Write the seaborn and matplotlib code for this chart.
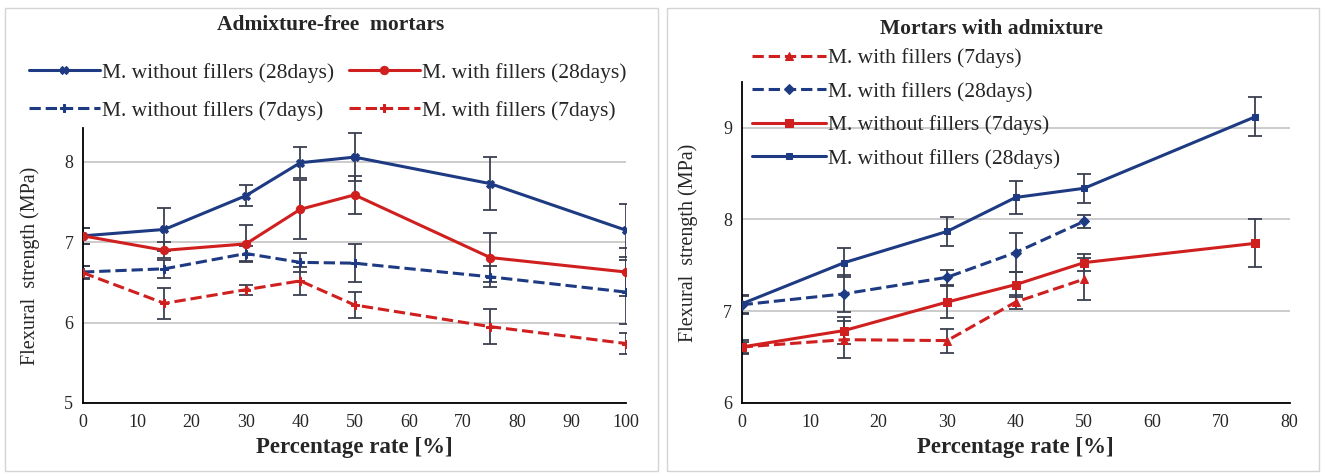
import numpy as np
import pandas as pd
import matplotlib
matplotlib.use("Agg")
import matplotlib.pyplot as plt
import seaborn as sns
from matplotlib.patches import Rectangle

# --- Admixture-free mortars (left) ---
pct_left = [0, 15, 30, 40, 50, 75, 100]
left_nf28 = [7.08, 7.16, 7.58, 7.99, 8.06, 7.73, 7.15]
left_nf28_err = [0.10, 0.27, 0.13, 0.19, 0.30, 0.33, 0.33]
left_wf28 = [7.08, 6.90, 6.98, 7.41, 7.59, 6.81, 6.63]
left_wf28_err = [0.10, 0.10, 0.23, 0.37, 0.24, 0.31, 0.30]
left_nf7 = [6.63, 6.67, 6.86, 6.75, 6.74, 6.57, 6.38]
left_nf7_err = [0.08, 0.11, 0.09, 0.12, 0.24, 0.13, 0.40]
left_wf7 = [6.62, 6.24, 6.41, 6.52, 6.22, 5.95, 5.74]
left_wf7_err = [0.08, 0.19, 0.06, 0.17, 0.16, 0.22, 0.13]

# --- Mortars with admixture (right) ---
pct_right = [0, 15, 30, 40, 50, 75]
pct_right_wf = [0, 15, 30, 40, 50]
right_nf28 = [7.08, 7.53, 7.87, 8.24, 8.34, 9.12]
right_nf28_err = [0.10, 0.16, 0.16, 0.18, 0.16, 0.21]
right_wf28 = [7.07, 7.19, 7.37, 7.64, 7.98]
right_wf28_err = [0.10, 0.20, 0.08, 0.21, 0.07]
right_nf7 = [6.61, 6.79, 7.10, 7.29, 7.53, 7.74]
right_nf7_err = [0.08, 0.15, 0.17, 0.14, 0.09, 0.26]
right_wf7 = [6.61, 6.69, 6.68, 7.10, 7.35]
right_wf7_err = [0.06, 0.20, 0.13, 0.08, 0.23]

NAVY = "#1d3a82"
RED = "#d01f1f"
ERRC = "#3a3f4f"

sns.set_style("white")
plt.rcParams["font.family"] = ["Liberation Serif", "DejaVu Serif"]

fig = plt.figure(figsize=(13.26, 4.73), dpi=100)

# cadres des deux panneaux
for x0 in (0.004, 0.503):
    fig.patches.append(Rectangle((x0, 0.005), 0.492, 0.978, transform=fig.transFigure,
                                 fill=False, edgecolor="#d4d4d4", linewidth=1.0))

ax1 = fig.add_axes([0.0626, 0.148, 0.4095, 0.581])
ax2 = fig.add_axes([0.5593, 0.148, 0.4133, 0.679])


def serie(ax, x, y, err, color, ls, marker, label, ms=6):
    df = pd.DataFrame({"x": x, "y": y})
    ax.errorbar(x, y, yerr=err, fmt="none", ecolor=ERRC, elinewidth=1.3,
                capsize=5, capthick=1.3, zorder=2)
    sns.lineplot(data=df, x="x", y="y", ax=ax, color=color, linestyle=ls,
                 marker=marker, markersize=ms, markeredgecolor=color,
                 linewidth=2.2, label=label, zorder=3,
                 dashes=(4, 2.2) if ls == "--" else "")


serie(ax1, pct_left, left_nf28, left_nf28_err, NAVY, "-", "X", "M. without fillers (28days)")
serie(ax1, pct_left, left_wf28, left_wf28_err, RED, "-", "o", "M. with fillers (28days)")
serie(ax1, pct_left, left_nf7, left_nf7_err, NAVY, "--", "P", "M. without fillers (7days)")
serie(ax1, pct_left, left_wf7, left_wf7_err, RED, "--", "P", "M. with fillers (7days)")

serie(ax2, pct_right_wf, right_wf7, right_wf7_err, RED, "--", "^", "M. with fillers (7days)")
serie(ax2, pct_right_wf, right_wf28, right_wf28_err, NAVY, "--", "D", "M. with fillers (28days)", ms=5.5)
serie(ax2, pct_right, right_nf7, right_nf7_err, RED, "-", "s", "M. without fillers (7days)")
serie(ax2, pct_right, right_nf28, right_nf28_err, NAVY, "-", "s", "M. without fillers (28days)", ms=5)

for ax, xmax, ymin, ymax in ((ax1, 100, 5, 8.42), (ax2, 80, 6, 9.5)):
    ax.set_xlim(0, xmax)
    ax.set_ylim(ymin, ymax)
    ax.set_xticks(np.arange(0, xmax + 1, 10))
    ax.set_yticks(np.arange(ymin, int(ymax) + 1, 1))
    ax.grid(axis="y", color="#c8c8c8", linewidth=1.3)
    ax.set_axisbelow(True)
    for s in ("top", "right"):
        ax.spines[s].set_visible(False)
    for s in ("left", "bottom"):
        ax.spines[s].set_color("black")
        ax.spines[s].set_linewidth(1.3)
    ax.tick_params(axis="x", direction="in", length=5, width=1.1, labelsize=13, pad=8)
    ax.tick_params(axis="y", direction="out", length=0, labelsize=13, pad=7)
    ax.set_xlabel("Percentage rate [%]", fontsize=16.5, fontweight="bold", labelpad=4)
    ax.set_ylabel("Flexural  strength (MPa)", fontsize=14.5)
    ax.get_legend().remove()

ax1.yaxis.set_label_coords(-0.08, 0.5)
ax2.yaxis.set_label_coords(-0.08, 0.5)

fig.text(0.249, 0.947, "Admixture-free  mortars", ha="center", va="center",
         fontsize=15.5, fontweight="bold")
fig.text(0.748, 0.938, "Mortars with admixture", ha="center", va="center",
         fontsize=15.5, fontweight="bold")

h1, l1 = ax1.get_legend_handles_labels()
order = [0, 2, 1, 3]
fig.legend([h1[i] for i in order], [l1[i] for i in order], ncol=2,
           loc="upper left", bbox_to_anchor=(0.015, 0.886), frameon=False,
           fontsize=15.5, handlelength=3.3, handletextpad=0.1,
           columnspacing=0.7, labelspacing=0.85, borderaxespad=0)

h2, l2 = ax2.get_legend_handles_labels()
fig.legend(h2, l2, ncol=1, loc="upper left", bbox_to_anchor=(0.561, 0.916),
           frameon=False, fontsize=15.5, handlelength=3.4, handletextpad=0.1,
           labelspacing=0.62, borderaxespad=0)

fig.savefig("out.png", dpi=100)
